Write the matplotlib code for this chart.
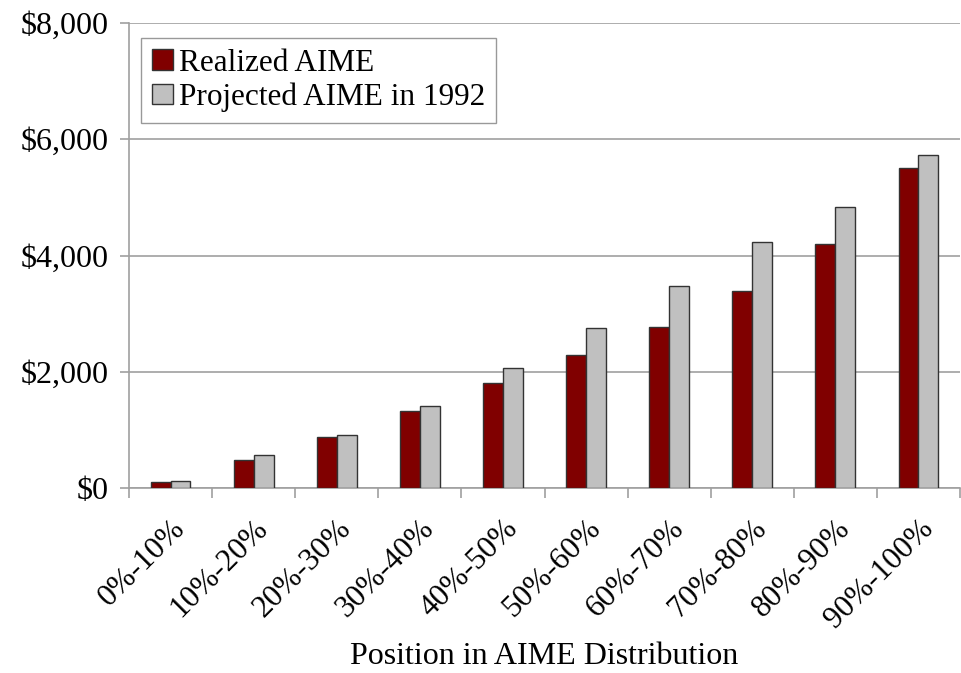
import numpy as np
import matplotlib.pyplot as plt
from matplotlib.ticker import FuncFormatter

plt.rcParams['font.family'] = ['Liberation Serif', 'DejaVu Serif']

# data
categories = ['0%-10%', '10%-20%', '20%-30%', '30%-40%', '40%-50%',
              '50%-60%', '60%-70%', '70%-80%', '80%-90%', '90%-100%']
realized = [108, 488, 879, 1317, 1799, 2292, 2774, 3397, 4195, 5500]
projected = [120, 560, 905, 1403, 2057, 2745, 3467, 4236, 4828, 5724]

fig = plt.figure(figsize=(9.61, 6.73), dpi=100)
ax = fig.add_axes([129 / 961, 1 - 488 / 673, (960 - 129) / 961, (488 - 23) / 673])

x = np.arange(len(categories))
w = 0.24
ax.bar(x - w / 2, realized, w, color='#800000', edgecolor='#333333', linewidth=1.0,
       label='Realized AIME', zorder=3)
ax.bar(x + w / 2, projected, w, color='#c0c0c0', edgecolor='#333333', linewidth=1.0,
       label='Projected AIME in 1992', zorder=3)

ax.set_xlim(-0.5, len(categories) - 0.5)
ax.set_ylim(0, 8000)
ax.set_yticks(np.arange(0, 8001, 2000))
ax.yaxis.set_major_formatter(FuncFormatter(lambda v, p: '${:,.0f}'.format(v)))
ax.yaxis.grid(True, color='#a0a0a0', linewidth=1.2, zorder=0)

ax.set_xticks(x)
ax.set_xticklabels(categories, rotation=45, ha='right', rotation_mode='anchor')
ax.set_xticks(np.arange(-0.5, len(categories), 1), minor=True)
ax.tick_params(axis='x', which='major', length=0, labelsize=22.5, pad=19)
ax.tick_params(axis='x', which='minor', length=7, color='#a0a0a0', width=1.2)
ax.tick_params(axis='y', length=6.5, color='#a0a0a0', width=1.2, labelsize=23, pad=8)

for s in ['top', 'right']:
    ax.spines[s].set_visible(False)
for s in ['left', 'bottom']:
    ax.spines[s].set_color('#a0a0a0')
    ax.spines[s].set_linewidth(1.2)

ax.set_xlabel('Position in AIME Distribution', fontsize=23, va='center')
ax.xaxis.set_label_coords(0.5, (488 - 657) / 465)

leg = ax.legend(loc='upper left', bbox_to_anchor=(0.015, 0.968), fontsize=22.5,
                frameon=True, fancybox=False, handlelength=0.65, handleheight=0.65,
                handletextpad=0.2, borderpad=0.35, labelspacing=0.15,
                borderaxespad=0)
leg.get_frame().set_edgecolor('#808080')
leg.get_frame().set_linewidth(1.0)

fig.savefig('out.png', dpi=100)
